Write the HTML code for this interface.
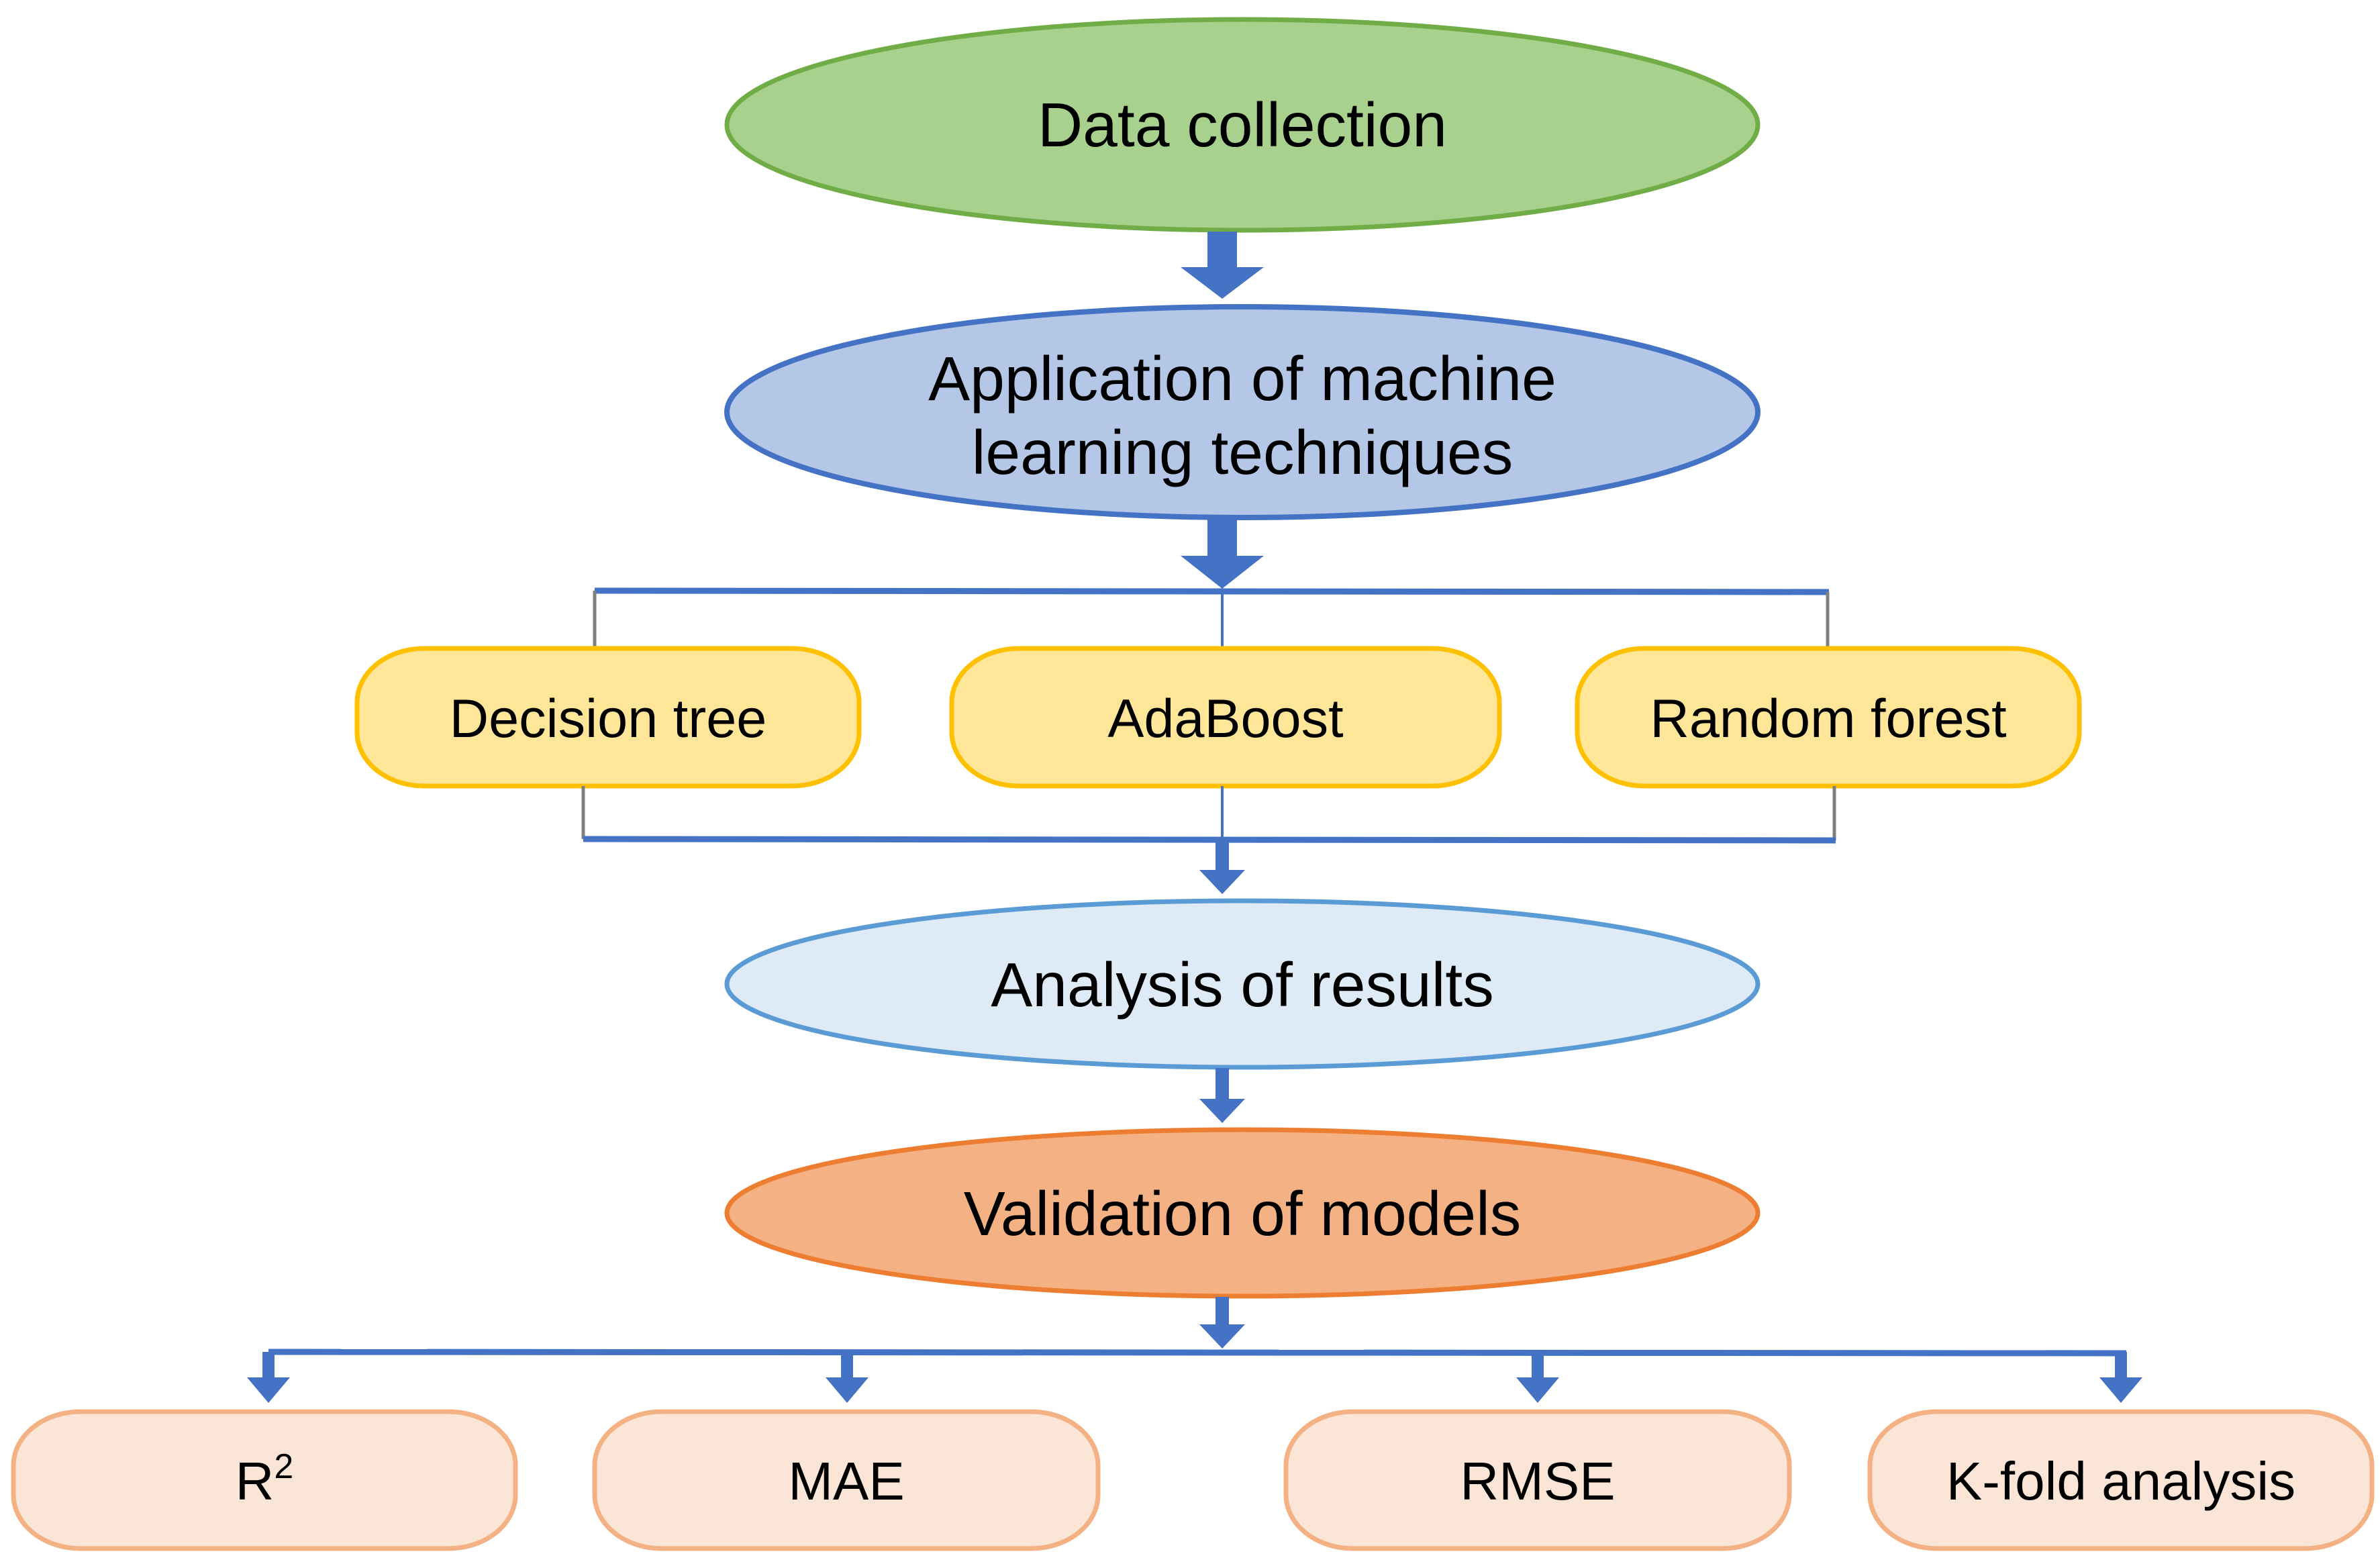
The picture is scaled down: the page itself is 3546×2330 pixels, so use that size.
<!DOCTYPE html>
<html><head><meta charset="utf-8"><style>
html,body{margin:0;padding:0;background:#fff;}
svg{display:block;}
text{font-family:"Liberation Sans",Arial,sans-serif;fill:#000;text-anchor:middle;}
</style></head><body>
<svg width="3546" height="2330" viewBox="0 0 3546 2330" xmlns="http://www.w3.org/2000/svg">
<ellipse cx="1851" cy="186" rx="768" ry="157" fill="#a9d18e" stroke="#70ad47" stroke-width="7"/>
<text x="1851" y="218" font-size="93">Data collection</text>
<rect x="1799" y="345" width="44" height="55" fill="#4472c4"/>
<polygon points="1759,398 1883,398 1821,445" fill="#4472c4"/>
<ellipse cx="1851" cy="614" rx="768" ry="157" fill="#b4c7e7" stroke="#4472c4" stroke-width="8"/>
<text x="1851" y="596" font-size="93">Application of machine</text>
<text x="1851" y="706" font-size="93">learning techniques</text>
<rect x="1799" y="773" width="44" height="57" fill="#4472c4"/>
<polygon points="1759,828 1883,828 1821,877" fill="#4472c4"/>
<line x1="886" y1="880" x2="2725" y2="882" stroke="#4472c4" stroke-width="9"/>
<line x1="886" y1="880" x2="886" y2="968" stroke="#7f7f7f" stroke-width="5"/>
<line x1="2723" y1="882" x2="2723" y2="968" stroke="#7f7f7f" stroke-width="5"/>
<line x1="1821" y1="880" x2="1821" y2="968" stroke="#4472c4" stroke-width="4"/>
<rect x="532" y="966" width="748" height="205" rx="100" ry="80" fill="#ffe699" stroke="#ffc000" stroke-width="7"/>
<text x="906" y="1098" font-size="81">Decision tree</text>
<rect x="1418" y="966" width="816" height="205" rx="100" ry="80" fill="#ffe699" stroke="#ffc000" stroke-width="7"/>
<text x="1826" y="1098" font-size="81">AdaBoost</text>
<rect x="2350" y="966" width="748" height="205" rx="100" ry="80" fill="#ffe699" stroke="#ffc000" stroke-width="7"/>
<text x="2724" y="1098" font-size="81">Random forest</text>
<line x1="869" y1="1171" x2="869" y2="1250" stroke="#7f7f7f" stroke-width="5"/>
<line x1="2733" y1="1171" x2="2733" y2="1252" stroke="#7f7f7f" stroke-width="5"/>
<line x1="1821" y1="1171" x2="1821" y2="1250" stroke="#4472c4" stroke-width="4"/>
<line x1="869" y1="1250" x2="2735" y2="1252" stroke="#4472c4" stroke-width="9"/>
<rect x="1811" y="1250" width="20" height="50" fill="#4472c4"/>
<polygon points="1787,1296 1855,1296 1821,1332" fill="#4472c4"/>
<ellipse cx="1851" cy="1466" rx="768" ry="124" fill="#deebf7" stroke="#5b9bd5" stroke-width="7"/>
<text x="1851" y="1499" font-size="93">Analysis of results</text>
<rect x="1811" y="1591" width="20" height="48" fill="#4472c4"/>
<polygon points="1787,1637 1855,1637 1821,1673" fill="#4472c4"/>
<ellipse cx="1851" cy="1807" rx="768" ry="124" fill="#f4b183" stroke="#ed7d31" stroke-width="7"/>
<text x="1851" y="1840" font-size="93">Validation of models</text>
<rect x="1811" y="1932" width="20" height="44" fill="#4472c4"/>
<polygon points="1787,1973 1855,1973 1821,2009" fill="#4472c4"/>
<line x1="400" y1="2014" x2="3168" y2="2016" stroke="#4472c4" stroke-width="9"/>
<g fill="#4472c4">
<rect x="391" y="2014" width="18" height="42"/><polygon points="368,2052 432,2052 400,2090"/>
<rect x="1253" y="2014" width="18" height="42"/><polygon points="1230,2052 1294,2052 1262,2090"/>
<rect x="2282" y="2014" width="18" height="42"/><polygon points="2259,2052 2323,2052 2291,2090"/>
<rect x="3151" y="2014" width="18" height="42"/><polygon points="3128,2052 3192,2052 3160,2090"/>
</g>
<g fill="#fbe5d6" stroke="#f4b183" stroke-width="7">
<rect x="20" y="2103" width="748" height="204" rx="100" ry="80"/>
<rect x="886" y="2103" width="750" height="204" rx="100" ry="80"/>
<rect x="1916" y="2103" width="750" height="204" rx="100" ry="80"/>
<rect x="2786" y="2103" width="748" height="204" rx="100" ry="80"/>
</g>
<text x="394" y="2234" font-size="80">R<tspan font-size="52" dy="-32">2</tspan></text>
<text x="1261" y="2234" font-size="80">MAE</text>
<text x="2291" y="2234" font-size="80">RMSE</text>
<text x="3160" y="2234" font-size="80">K-fold analysis</text>
</svg>
</body></html>
